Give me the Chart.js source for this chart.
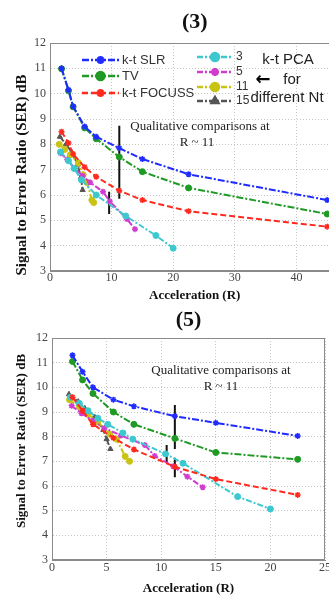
<!DOCTYPE html>
<html>
<head>
<meta charset="utf-8">
<script src="https://cdn.jsdelivr.net/npm/chart.js@4.4.0/dist/chart.umd.min.js"></script>
<style>
  html, body { margin: 0; padding: 0; background: #fff; width: 329px; height: 597px; overflow: hidden; }
  canvas { position: absolute; left: 0; }
  #chart3 { top: 0; }
  #chart5 { top: 297px; }
</style>
</head>
<body>
<canvas id="chart3" width="345" height="304"></canvas>
<canvas id="chart5" width="340" height="300"></canvas>
<script>
  // ---- panel (3) ----
  const accel3 = [1.875, 3, 3.75, 5.625, 7.5, 11.25, 15, 22.5, 45];
  const slr3 = [11.0, 10.15, 9.5, 8.7, 8.3, 7.85, 7.42, 6.82, 5.8];
  const tv3 = [10.98, 10.12, 9.48, 8.65, 8.22, 7.5, 6.92, 6.28, 5.25];
  const focuss3 = [8.5, 8.05, 7.62, 7.1, 6.72, 6.17, 5.8, 5.36, 4.75];
  const pcaNt3R3 = [1.7, 3.0, 3.9, 5.1, 7.5, 12.3, 17.2, 20];
  const pcaNt3Ser3 = [7.7, 7.35, 7.05, 6.6, 6.0, 5.17, 4.4, 3.9];
  const pcaNt5R3 = [1.7, 2.8, 4.0, 5.3, 6.5, 8.6, 9.7, 12.5, 13.8];
  const pcaNt5Ser3 = [7.65, 7.4, 7.05, 6.75, 6.5, 6.13, 5.75, 5.05, 4.65];
  const pcaNt11R3 = [1.5, 2.4, 3.3, 4.6, 5.4, 6.0, 6.8, 7.1];
  const pcaNt11Ser3 = [8.0, 7.8, 7.58, 7.27, 6.8, 6.5, 5.8, 5.7];
  const pcaNt15R3 = [1.6, 2.6, 3.5, 4.5, 5.0, 5.3];
  const pcaNt15Ser3 = [8.3, 8.0, 7.7, 7.2, 6.7, 6.2];
  const markR3 = [11.25, 9.6];
  const markHi3 = [8.73, 6.13];
  const markLo3 = [5.85, 5.25];

  // ---- panel (5) ----
  const accel5 = [1.875, 2.8, 3.75, 5.625, 7.5, 11.25, 15, 22.5];
  const slr5 = [11.3, 10.63, 10.0, 9.5, 9.23, 8.83, 8.56, 8.03];
  const tv5 = [11.05, 10.3, 9.75, 9.0, 8.5, 7.93, 7.36, 7.08];
  const focuss5 = [9.6, 9.05, 8.5, 7.95, 7.48, 6.78, 6.28, 5.64];
  const pcaNt3R5 = [1.7, 2.5, 3.3, 4.2, 5.1, 6.5, 7.4, 10.4, 12.0, 17.0, 20.0];
  const pcaNt3Ser5 = [9.6, 9.35, 9.05, 8.75, 8.5, 8.15, 7.9, 7.3, 6.92, 5.57, 5.07];
  const pcaNt5R5 = [1.8, 2.7, 3.7, 4.8, 6.3, 8.5, 9.4, 11.1, 12.4, 13.8];
  const pcaNt5Ser5 = [9.25, 8.95, 8.65, 8.35, 8.05, 7.66, 7.22, 6.8, 6.38, 5.95];
  const pcaNt11R5 = [1.6, 2.5, 3.3, 4.2, 5.3, 5.9, 6.7, 7.1];
  const pcaNt11Ser5 = [9.5, 9.2, 8.9, 8.6, 8.1, 7.9, 7.2, 7.0];
  const pcaNt15R5 = [1.55, 2.4, 3.0, 3.9, 4.7, 5.0, 5.35];
  const pcaNt15Ser5 = [9.72, 9.42, 9.15, 8.8, 8.27, 7.9, 7.5];
  const markR5 = [11.25, 11.25, 10.5];
  const markHi5 = [9.28, 7.15, 7.66];
  const markLo5 = [7.5, 6.35, 6.93];

  const seriesNames = ['k-t SLR', 'TV', 'k-t FOCUSS', '3', '5', '11', '15'];
  const yTitle = 'Signal to Error Ratio (SER) dB';

  const serif = '"Liberation Serif", "Times New Roman", serif';
  const sans = '"Liberation Sans", Arial, sans-serif';

  const styles = [
    { color: '#1f2bff', dash: [7, 2, 2, 2], point: 'star' },
    { color: '#1f9a24', dash: [7, 2, 2, 2], point: 'circle' },
    { color: '#ff2a1f', dash: [6, 3], point: 'star' },
    { color: '#3cc8cf', dash: [6, 2, 2, 2], point: 'circle' },
    { color: '#cf3ccf', dash: [6, 2, 2, 2], point: 'star' },
    { color: '#c9c414', dash: [6, 2, 2, 2], point: 'circle' },
    { color: '#555555', dash: [6, 2, 2, 2], point: 'triangle' }
  ];

  function pts(xs, ys) {
    return xs.map(function (x, i) { return { x: x, y: ys[i] }; });
  }

  function series(i, xs, ys) {
    const st = styles[i];
    return {
      label: seriesNames[i],
      data: pts(xs, ys),
      showLine: true,
      borderColor: st.color,
      backgroundColor: st.color,
      borderWidth: 2,
      borderDash: st.dash,
      pointStyle: st.point,
      pointRadius: 3,
      pointBorderWidth: st.point === 'star' ? 1.5 : 1,
      pointBackgroundColor: st.color,
      pointBorderColor: st.color
    };
  }

  // short black bars marking R ~ 11
  function marks(xs, hi, lo) {
    return xs.map(function (x, i) {
      return {
        label: '',
        data: [{ x: x, y: hi[i] }, { x: x, y: lo[i] }],
        showLine: true,
        borderColor: '#111',
        borderWidth: 2,
        pointRadius: 0
      };
    });
  }

  // frame around the plot, in-plot legend and free text
  const notesPlugin = {
    id: 'notes',
    beforeDatasetsDraw(chart) {
      const a = chart.chartArea;
      const ctx = chart.ctx;
      ctx.save();
      ctx.strokeStyle = '#8a8a8a';
      ctx.lineWidth = 1;
      ctx.strokeRect(a.left + 0.5, a.top + 0.5, a.right - a.left - 1, a.bottom - a.top - 1);
      ctx.restore();
    },
    afterDraw(chart, args, opts) {
      const ctx = chart.ctx;
      (opts.legend || []).forEach(function (it) {
        const ds = chart.data.datasets[it.index];
        const y = it.y;
        ctx.save();
        ctx.strokeStyle = ds.borderColor;
        ctx.lineWidth = 2.5;
        ctx.setLineDash(ds.borderDash);
        ctx.beginPath();
        ctx.moveTo(it.x, y);
        ctx.lineTo(it.x + it.len, y);
        ctx.stroke();
        ctx.setLineDash([]);
        ctx.fillStyle = ds.borderColor;
        ctx.strokeStyle = ds.borderColor;
        Chart.helpers.drawPoint(ctx, {
          pointStyle: ds.pointStyle, radius: 4, rotation: 0, borderWidth: 2
        }, it.x + it.len / 2, y);
        ctx.fillStyle = '#333';
        ctx.font = it.size + 'px ' + sans;
        ctx.textAlign = 'left';
        ctx.textBaseline = 'middle';
        ctx.fillText(ds.label, it.x + it.len + 3, y);
        ctx.restore();
      });
      (opts.texts || []).forEach(function (t) {
        ctx.save();
        ctx.fillStyle = t.color || '#222';
        ctx.font = t.font;
        ctx.textAlign = 'center';
        ctx.textBaseline = 'middle';
        ctx.translate(t.x, t.y);
        if (t.rot) ctx.rotate(t.rot);
        ctx.fillText(t.text, 0, 0);
        ctx.restore();
      });
    }
  };

  function axes(xMax, xStep, xHeight, xTickPad, yWidth) {
    const tickFont = { family: serif, size: 12 };
    return {
      x: {
        type: 'linear', min: 0, max: xMax,
        afterFit: function (s) { s.height = xHeight; },
        ticks: { stepSize: xStep, includeBounds: false, padding: xTickPad, color: '#444', font: tickFont },
        grid: { color: '#c4c4c4', drawTicks: false },
        border: { color: '#8a8a8a', dash: [1, 2] },
        title: { display: true, text: 'Acceleration (R)', color: '#111',
                 font: { family: serif, size: 13, weight: 'bold' }, padding: { top: 0, bottom: 1 } }
      },
      y: {
        min: 3, max: 12,
        afterFit: function (s) { s.width = yWidth; },
        ticks: { stepSize: 1, padding: 4, color: '#444', font: tickFont },
        grid: { color: '#c4c4c4', drawTicks: false },
        border: { color: '#8a8a8a', dash: [1, 2] }
      }
    };
  }

  const chart3 = new Chart(document.getElementById('chart3'), {
    type: 'scatter',
    data: {
      datasets: [
        series(0, accel3, slr3),
        series(1, accel3, tv3),
        series(2, accel3, focuss3),
        series(3, pcaNt3R3, pcaNt3Ser3),
        series(4, pcaNt5R3, pcaNt5Ser3),
        series(5, pcaNt11R3, pcaNt11Ser3),
        series(6, pcaNt15R3, pcaNt15Ser3)
      ].concat(marks(markR3, markHi3, markLo3))
    },
    options: {
      responsive: false,
      animation: false,
      layout: { padding: { right: 3.6 } },
      scales: axes(47, 10, 33, 0, 50),
      plugins: {
        legend: { display: false },
        tooltip: { enabled: false },
        title: {
          display: true, text: '(3)', fullSize: false, color: '#111',
          font: { family: serif, size: 22, weight: 'bold' },
          padding: { top: 8.8, bottom: 7.8 }
        },
        notes: {
          legend: [
            { index: 0, x: 82, y: 60, len: 37, size: 13 },
            { index: 1, x: 82, y: 76, len: 37, size: 13 },
            { index: 2, x: 82, y: 93, len: 37, size: 13 },
            { index: 3, x: 197, y: 57, len: 36, size: 12 },
            { index: 4, x: 197, y: 72, len: 36, size: 12 },
            { index: 5, x: 197, y: 87, len: 36, size: 12 },
            { index: 6, x: 197, y: 101, len: 36, size: 12 }
          ],
          texts: [
            { text: yTitle, x: 22, y: 175, rot: -Math.PI / 2, font: 'bold 15px ' + serif, color: '#111' },
            { text: 'Qualitative comparisons at', x: 200, y: 127, font: '13px ' + serif },
            { text: 'R ~ 11', x: 197, y: 143, font: '13px ' + serif },
            { text: 'k-t PCA', x: 288, y: 60, font: '15px ' + sans },
            { text: '\u2190', x: 263, y: 80, font: 'bold 18px "DejaVu Sans"', color: '#000' },
            { text: 'for', x: 292, y: 80, font: '15px ' + sans },
            { text: 'different Nt', x: 287, y: 98, font: '15px ' + sans }
          ]
        }
      }
    },
    plugins: [notesPlugin]
  });

  const chart5 = new Chart(document.getElementById('chart5'), {
    type: 'scatter',
    data: {
      datasets: [
        series(0, accel5, slr5),
        series(1, accel5, tv5),
        series(2, accel5, focuss5),
        series(3, pcaNt3R5, pcaNt3Ser5),
        series(4, pcaNt5R5, pcaNt5Ser5),
        series(5, pcaNt11R5, pcaNt11Ser5),
        series(6, pcaNt15R5, pcaNt15Ser5)
      ].concat(marks(markR5, markHi5, markLo5))
    },
    options: {
      responsive: false,
      animation: false,
      layout: { padding: { right: 15 } },
      scales: axes(25, 5, 37, 1, 52),
      plugins: {
        legend: { display: false },
        tooltip: { enabled: false },
        title: {
          display: true, text: '(5)', fullSize: false, color: '#111',
          font: { family: serif, size: 22, weight: 'bold' },
          padding: { top: 9.8, bottom: 4.8 }
        },
        notes: {
          texts: [
            { text: yTitle, x: 22, y: 144, rot: -Math.PI / 2, font: 'bold 13px ' + serif, color: '#111' },
            { text: 'Qualitative comparisons at', x: 221, y: 74, font: '13px ' + serif },
            { text: 'R ~ 11', x: 221, y: 90, font: '13px ' + serif }
          ]
        }
      }
    },
    plugins: [notesPlugin]
  });
</script>
</body>
</html>
